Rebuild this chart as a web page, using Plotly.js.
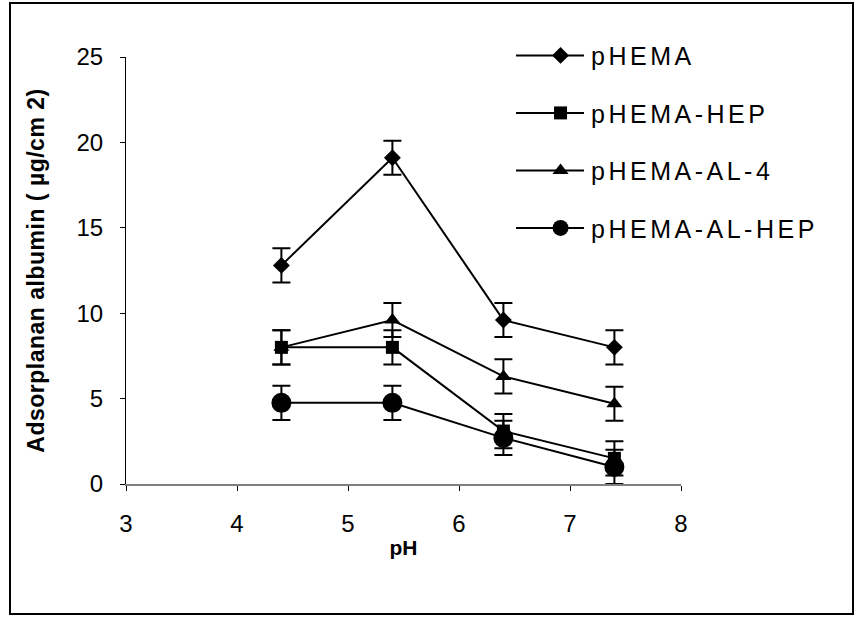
<!DOCTYPE html>
<html>
<head>
<meta charset="utf-8">
<script src="https://cdn.plot.ly/plotly-3.0.1.min.js"></script>
<style>
  html, body { margin: 0; padding: 0; background: #fff; }
  #wrap { position: relative; width: 854px; height: 617px; }
  #chart { width: 854px; height: 617px; }
  #frame { position: absolute; left: 9px; top: 2px; width: 841px; height: 609px; border: 2px solid #000; pointer-events: none; }
  #chart .ytitle { letter-spacing: 0.5px; }
</style>
</head>
<body>
<div id="wrap">
  <div id="chart"></div>
  <div id="frame"></div>
</div>
<script>
const pH = [4.4, 5.4, 6.4, 7.4];
const seriesNames = ["pHEMA", "pHEMA-HEP", "pHEMA-AL-4", "pHEMA-AL-HEP"];
const pHEMA = [12.8, 19.1, 9.6, 8.0];
const pHEMA_HEP = [8.0, 8.0, 3.1, 1.5];
const pHEMA_AL4 = [8.0, 9.6, 6.3, 4.7];
const pHEMA_AL_HEP = [4.75, 4.75, 2.7, 1.0];
const errPHEMA = [1.0, 1.0, 1.0, 1.0];
const errPHEMA_HEP = [1.0, 1.0, 1.0, 1.0];
const errPHEMA_AL4 = [1.0, 1.0, 1.0, 1.0];
const errPHEMA_AL_HEP = [1.0, 1.0, 1.0, 1.0];
const xTicks = [3, 4, 5, 6, 7, 8];
const yTicks = [0, 5, 10, 15, 20, 25];

const values = [pHEMA, pHEMA_HEP, pHEMA_AL4, pHEMA_AL_HEP];
const errors = [errPHEMA, errPHEMA_HEP, errPHEMA_AL4, errPHEMA_AL_HEP];
const symbols = ["diamond", "square", "triangle-up", "circle"];
const sizes = [13, 13, 14, 20];

const traces = values.map((v, i) => ({
  x: pH,
  y: v,
  name: seriesNames[i],
  type: "scatter",
  mode: "lines+markers",
  line: { color: "#000", width: 2 },
  marker: { symbol: symbols[i], size: sizes[i], color: "#000", line: { width: 0 } },
  error_y: { type: "data", array: errors[i], visible: true, color: "#000", thickness: 2, width: 9 },
  legendgroup: "g" + i
}));

const FONT = "Liberation Sans, Arial, sans-serif";

const layout = {
  width: 854,
  height: 617,
  margin: { l: 126, r: 173, t: 57, b: 133 },
  paper_bgcolor: "#fff",
  plot_bgcolor: "#fff",
  font: { family: FONT, color: "#000" },
  showlegend: true,
  legend: {
    x: 0.728, y: 1.057, xanchor: "left", yanchor: "top",
    font: { size: 25, family: FONT, color: "#000" },
    bgcolor: "rgba(0,0,0,0)",
    tracegroupgap: 22,
    itemwidth: 51
  },
  xaxis: {
    range: [3, 8],
    tickvals: xTicks,
    ticktext: xTicks.map(String),
    showgrid: false,
    zeroline: false,
    showline: true,
    linecolor: "#808080",
    linewidth: 2,
    ticks: "outside",
    ticklen: 5,
    tickwidth: 1,
    tickcolor: "#000",
    ticklabelstandoff: 12,
    tickfont: { size: 24, family: FONT },
    title: { text: "<b>pH</b>", font: { size: 21, family: FONT }, standoff: 5 }
  },
  yaxis: {
    range: [0, 25],
    tickvals: yTicks,
    ticktext: yTicks.map(String),
    showgrid: false,
    zeroline: false,
    showline: true,
    linecolor: "#000",
    linewidth: 1,
    ticks: "outside",
    ticklen: 5,
    tickwidth: 1,
    tickcolor: "#000",
    ticklabelstandoff: 12,
    tickfont: { size: 24, family: FONT },
    title: { text: "<b>Adsorplanan albumin ( µg/cm 2)</b>", font: { size: 23, family: FONT }, standoff: 25 }
  }
};

Plotly.newPlot("chart", traces, layout, { displayModeBar: false, staticPlot: true }).then(gd => {
  // lengthen legend sample lines to match the reference's longer legend keys
  gd.querySelectorAll(".legend .legendlines path").forEach(p => p.setAttribute("d", "M-14,0h68"));
  // widen legend text spacing (as in the reference) without clipping
  gd.querySelectorAll(".legend [clip-path]").forEach(el => el.removeAttribute("clip-path"));
  const lg = gd.querySelector(".legend");
  if (lg) lg.removeAttribute("clip-path");
  gd.querySelectorAll(".legend .legendtext").forEach(t => { t.style.letterSpacing = "3.5px"; });
});
</script>
</body>
</html>
